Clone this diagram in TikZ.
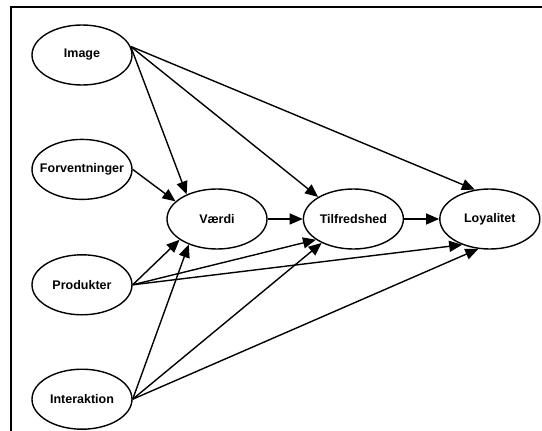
\documentclass[tikz,border=0pt]{standalone}
\usepackage{fontspec}
\setmainfont{Liberation Sans}
\usepackage{tikz}
\usetikzlibrary{positioning,arrows.meta,shapes.geometric}

\begin{document}
\begin{tikzpicture}[x=1pt,y=-1pt,
      konstrukt/.style={draw,ellipse,line width=1.4pt,minimum width=100pt,minimum height=60pt,inner sep=0pt,
        font=\fontsize{12.5}{15}\selectfont\bfseries,
        execute at begin node={\hbox to 0pt\bgroup\hss},execute at end node={\hss\egroup}},
      pil/.style={line width=1.4pt,-{Triangle[length=13pt,width=11pt]}}]
      \useasboundingbox (0,0) rectangle (542,431);
      \draw[line width=1.8pt] (11,431) -- (11,7) -- (542,7);
      % venstre kolonne
      \node[konstrukt] (img) at (82,55) {Image};
      \node[konstrukt] (forv)  [below=53pt of img]  {Forventninger};
      \node[konstrukt] (prod)  [below=54pt of forv] {Produkter};
      \node[konstrukt] (inter) [below=53pt of prod] {Interaktion};
      % midterste raekke
      \node[konstrukt] (vaerdi) at (217,219) {V\ae rdi};
      \node[konstrukt] (tilf) [right=35pt of vaerdi] {Tilfredshed};
      \node[konstrukt] (loy)  [right=35pt of tilf]   {Loyalitet};
      \draw[pil] (img.10) -- (vaerdi.141);
      \draw[pil] (img.10) -- (tilf.148);
      \draw[pil] (img.10) -- (loy.117);
      \draw[pil] (forv.east) -- (vaerdi.157);
      \draw[pil] (prod.east) -- (vaerdi.209);
      \draw[pil] (prod.east) -- (tilf.209);
      \draw[pil] (prod.east) -- (loy.223);
      \draw[pil] (inter.east) -- (vaerdi.222);
      \draw[pil] (inter.east) -- (tilf.217);
      \draw[pil] (inter.east) -- (loy.249);
      \draw[pil] (vaerdi) -- (tilf);
      \draw[pil] (tilf) -- (loy);
\end{tikzpicture}
\end{document}
